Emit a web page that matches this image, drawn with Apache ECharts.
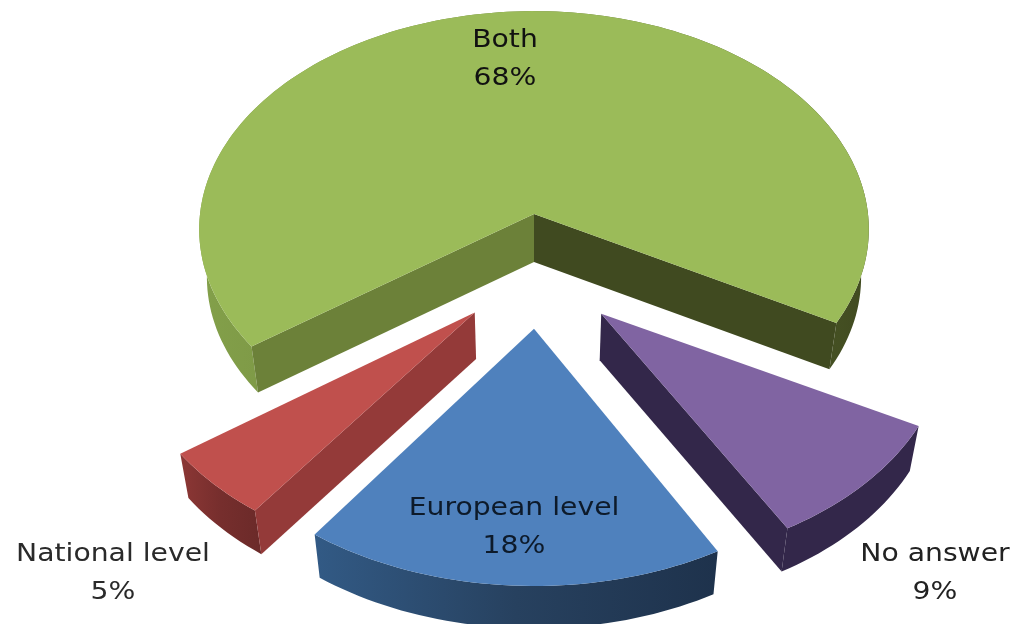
<!DOCTYPE html>
<html>
<head>
<meta charset="utf-8">
<style>html,body{margin:0;padding:0;background:#fff}#chart{width:1014px;height:624px}</style>
<script src="https://cdn.jsdelivr.net/npm/echarts@6/dist/echarts.min.js"></script>
</head>
<body>
<div id="chart"></div>
<script>
// Data
const categories = ['Both', 'No answer', 'European level', 'National level'];
const shares = [68, 9, 18, 5];

// Styles
const topColors = ['#9BBB59', '#8064A2', '#4F81BD', '#C0504D'];
const rimStops = [
  ['#83A04A', '#6C8139', '#404A20'],
  ['#33274A', '#33274A', '#33274A'],
  ['#325A85', '#27415F', '#1E324C'],
  ['#8C3735', '#762E2D', '#6B2A29']
];
// Only the cut faces that the viewer can see get a colour
const radialStart = ['#6C8139', null, null, '#943A39'];
const radialEnd = ['#404A20', '#33274A', null, null];
const textColors = ['#111', '#222', '#0d1a2a', '#2a2a2a'];

// Layout of the projected 3D pie
const view = { cx: 534, cy: 214, R: 334, tilt: 0.65, persp: 0.07, depth: 48, xShrink: 0.977, yShrink: 0.985 };
const startAngle = 234.2;
const sliceOffsets = [[0, 0], [0.195, 0.445], [0.0, 0.51], [-0.172, 0.44]];
const sliceTwist = [0, -1, -0.5, 0];
const sliceScale = [1, 1, 1.02, 1];
const labelPos = [[505, 40], [935, 554], [514, 508], [113, 554]];
const labelGap = 38;
const fontPx = 25, textStretch = 1.13;

function project(x, y) {
  const s = 1 / (1 - view.persp * y);
  return [view.cx + view.R * x * s, view.cy + view.R * view.tilt * y * s];
}
function lower(p) {
  return [view.cx + (p[0] - view.cx) * view.xShrink,
          view.cy + view.depth + (p[1] - view.cy) * view.yShrink];
}

function renderSlice(params, api) {
  const i = params.dataIndex;
  const total = shares.reduce((a, b) => a + b, 0);
  let before = 0;
  for (let k = 0; k < i; k++) before += shares[k];
  const a0 = startAngle + before / total * 360 + sliceTwist[i];
  const a1 = a0 + api.value(0) / total * 360;
  const off = sliceOffsets[i], sc = sliceScale[i];
  const arc = [];
  const n = Math.ceil((a1 - a0) / 1.5);
  for (let k = 0; k <= n; k++) {
    const a = (a0 + (a1 - a0) * k / n) * Math.PI / 180;
    arc.push(project(off[0] + sc * Math.sin(a), off[1] - sc * Math.cos(a)));
  }
  const apex = project(off[0], off[1]);
  const arcLow = arc.map(lower);
  const apexLow = lower(apex);
  const first = arc[0], last = arc[arc.length - 1];
  const firstLow = arcLow[0], lastLow = arcLow[arcLow.length - 1];
  const poly = (points, fill) => ({
    type: 'polygon', z2: i * 10, silent: true,
    shape: { points }, style: { fill, stroke: null }
  });
  const stops = rimStops[i];
  const rimFill = {
    type: 'linear', x: 0, y: 0, x2: 1, y2: 0,
    colorStops: [{ offset: 0, color: stops[0] }, { offset: 0.5, color: stops[1] }, { offset: 1, color: stops[2] }]
  };
  const children = [poly(arc.concat(arcLow.slice().reverse()), rimFill)];
  if (radialStart[i]) children.push(poly([apex, first, firstLow, apexLow], radialStart[i]));
  if (radialEnd[i]) children.push(poly([apex, last, lastLow, apexLow], radialEnd[i]));
  children.push(poly([apex].concat(arc), topColors[i]));
  const pos = labelPos[i];
  [categories[i], api.value(0) + '%'].forEach((line, j) => {
    children.push({
      type: 'text', z2: 100, silent: true,
      x: pos[0], y: pos[1] + j * labelGap, scaleX: textStretch,
      style: {
        text: line,
        fill: textColors[i], font: fontPx + 'px "DejaVu Sans"',
        align: 'center', verticalAlign: 'middle'
      }
    });
  });
  return { type: 'group', children };
}

const chart = echarts.init(document.getElementById('chart'), null, { renderer: 'canvas' });
chart.setOption({
  backgroundColor: '#fff',
  animation: false,
  series: [{
    type: 'custom',
    coordinateSystem: 'none',
    silent: true,
    renderItem: renderSlice,
    data: shares.map(v => [v])
  }]
});
</script>
</body>
</html>
